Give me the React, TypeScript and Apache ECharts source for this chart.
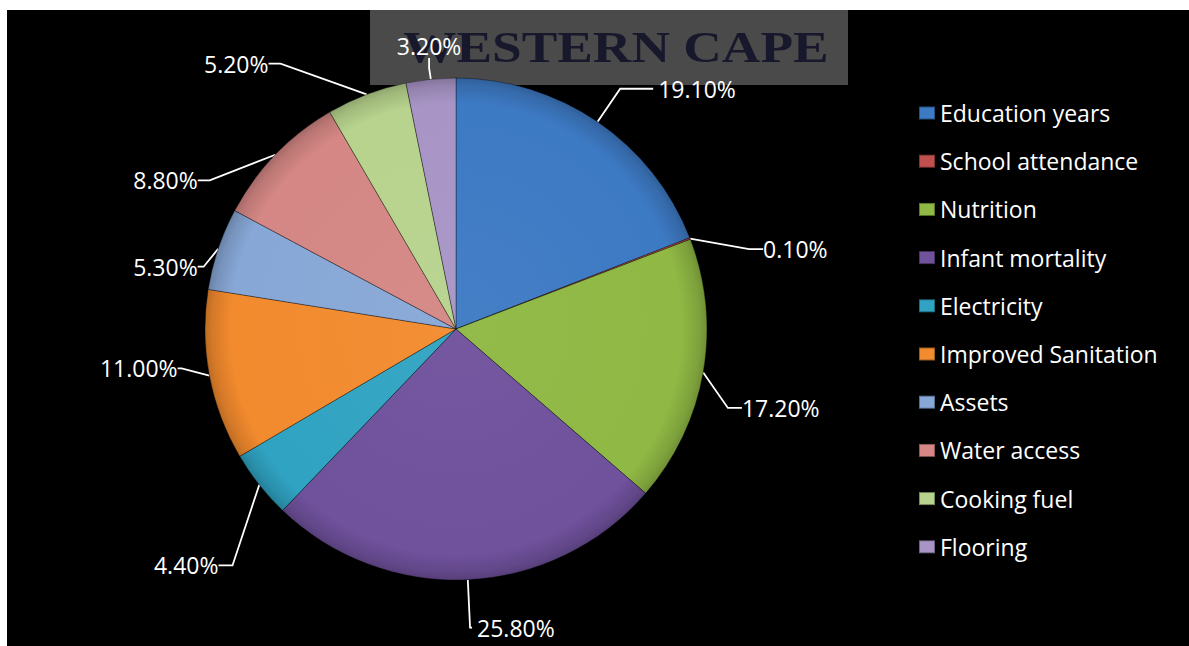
import React, { useEffect, useRef } from "react";
import * as echarts from "echarts";

const categories = [
  "Education years",
  "School attendance",
  "Nutrition",
  "Infant mortality",
  "Electricity",
  "Improved Sanitation",
  "Assets",
  "Water access",
  "Cooking fuel",
  "Flooring",
];
const shares = [19.1, 0.1, 17.2, 25.8, 4.4, 11.0, 5.3, 8.8, 5.2, 3.2];

const sliceColors = [
  "#3D7AC4",
  "#C0504D",
  "#8FB844",
  "#6F519C",
  "#30A3C2",
  "#F28A2E",
  "#87A7D6",
  "#D48784",
  "#B7D38D",
  "#A895C6",
];

// leader line [length, length2] per slice (styling only)
const leaderLens = [
  [40, 33],
  [15, 14],
  [20, 14],
  [48, 2],
  [75, 14],
  [15, 4],
  [10, 6],
  [5, 12],
  [34, 12],
  [35, 10],
];
// label nudges [dx, dy] relative to the library's own placement; null = keep as is
const labelNudges: (number[] | null)[] = [
  null,
  [40, 16],
  [0, 32],
  null,
  [37, 34],
  [-8, -10],
  [0, 21],
  [-57, 29],
  [-69, 1],
  [49, 2],
];

const FONT = "'Open Sans', 'Noto Sans', sans-serif";
const CX = 456;
const CY = 329;
const R = 251;

function shade(hex: string, f: number) {
  const n = parseInt(hex.slice(1), 16);
  const ch = [(n >> 16) & 255, (n >> 8) & 255, n & 255].map((c) =>
    Math.max(0, Math.min(255, Math.round(f < 1 ? c * f : c + (255 - c) * (f - 1))))
  );
  return "rgb(" + ch.join(",") + ")";
}

export default function App() {
  const ref = useRef<HTMLDivElement>(null);
  useEffect(() => {
    const chart = echarts.init(ref.current!, null, { renderer: "svg" });
    chart.setOption({
      animation: false,
      backgroundColor: "#ffffff",
      graphic: [
        {
          type: "rect",
          z: 0,
          shape: { x: 7, y: 10, width: 1182, height: 636 },
          style: { fill: "#000000" },
        },
        {
          type: "rect",
          z: 1,
          shape: { x: 370, y: 10, width: 478, height: 75 },
          style: { fill: "#4a4a4a" },
        },
        {
          type: "text",
          z: 2,
          x: 403,
          y: 25,
          scaleX: 1.335,
          scaleY: 1.12,
          style: {
            text: "WESTERN CAPE",
            fill: "#18182c",
            font: "bold 40px 'Liberation Serif', 'DejaVu Serif', serif",
          },
        },
      ],
      legend: {
        orient: "vertical",
        left: 918,
        top: 101,
        padding: 0,
        itemWidth: 16,
        itemHeight: 13,
        itemGap: 24.2,
        icon: "rect",
        data: categories.map((name, i) => ({
          name,
          itemStyle: { color: sliceColors[i] },
        })),
        textStyle: {
          color: "#ffffff",
          fontSize: 23,
          lineHeight: 24,
          fontFamily: FONT,
        },
      },
      series: [
        {
          type: "pie",
          center: [CX, CY],
          radius: [0, R],
          startAngle: 90,
          clockwise: true,
          avoidLabelOverlap: false,
          minShowLabelAngle: 0,
          z: 5,
          itemStyle: {
            borderColor: "rgba(0,0,0,0.35)",
            borderWidth: 1,
          },
          label: {
            show: true,
            position: "outside",
            color: "#ffffff",
            fontSize: 23,
            fontFamily: FONT,
            formatter: (p: any) => p.value.toFixed(2) + "%",
          },
          labelLine: {
            show: true,
            lineStyle: { color: "#ffffff", width: 1.8 },
          },
          labelLayout: (p: any) => {
            const nudge = labelNudges[p.dataIndex];
            if (!nudge) return {};
            const r = p.labelRect;
            const ax =
              p.align === "right"
                ? r.x + r.width
                : p.align === "center"
                ? r.x + r.width / 2
                : r.x;
            const ay =
              p.verticalAlign === "bottom"
                ? r.y + r.height
                : p.verticalAlign === "middle"
                ? r.y + r.height / 2
                : r.y;
            return { x: ax + nudge[0], y: ay + nudge[1] };
          },
          data: categories.map((name, i) => ({
            name,
            value: shares[i],
            itemStyle: {
              color: new echarts.graphic.RadialGradient(
                CX,
                CY,
                R,
                [
                  { offset: 0, color: shade(sliceColors[i], 1.04) },
                  { offset: 0.9, color: sliceColors[i] },
                  { offset: 0.97, color: shade(sliceColors[i], 0.88) },
                  { offset: 1, color: shade(sliceColors[i], 0.78) },
                ],
                true
              ),
            },
            labelLine: { length: leaderLens[i][0], length2: leaderLens[i][1] },
          })),
        },
      ],
    });
    return () => chart.dispose();
  }, []);
  return (
    <div
      ref={ref}
      style={{ position: "fixed", left: 0, top: 0, width: 1189, height: 646 }}
    />
  );
}
